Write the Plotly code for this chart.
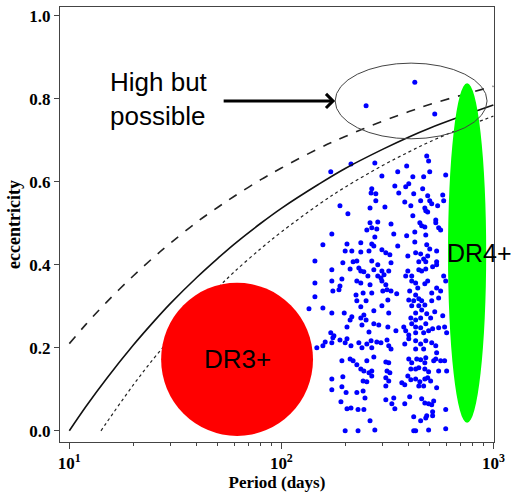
import plotly.graph_objects as go

# ---------------- data ----------------
# model curves (period in days, eccentricity)
curve_periods = [10, 12, 15, 20, 25, 30, 40, 50, 60, 80, 100, 150, 200, 300, 400, 500, 700, 1000]
ecc_solid = [0.000, 0.059, 0.126, 0.206, 0.263, 0.307, 0.370, 0.415, 0.450, 0.500,
             0.536, 0.594, 0.632, 0.678, 0.708, 0.729, 0.757, 0.785]
ecc_dashed = [0.210, 0.257, 0.310, 0.373, 0.418, 0.452, 0.503, 0.538, 0.565, 0.605,
              0.633, 0.680, 0.709, 0.746, 0.769, 0.786, 0.808, 0.830]
dotted_periods = [14.1, 15, 20, 25, 30, 40, 50, 60, 80, 100, 150, 200, 300, 400, 500, 700, 1000]
ecc_dotted = [0.000, 0.020, 0.110, 0.174, 0.222, 0.294, 0.344, 0.383, 0.439, 0.479,
              0.545, 0.587, 0.639, 0.672, 0.696, 0.728, 0.758]

# binaries, high-eccentricity part
per_high = [171, 213, 276, 485, 495, 390, 354, 298, 417, 469,
            501, 596, 343, 399, 386, 267, 265, 279, 358, 421,
            464, 490, 577, 279, 382, 454, 501, 512, 583, 189,
            262, 308, 408, 475, 546, 480, 490, 206, 417, 262,
            285, 329, 450, 535, 535, 267, 253, 282, 459, 475,
            552, 564, 173, 276, 339, 390, 426, 480,
            426, 251, 529]
ecc_high = [0.624, 0.643, 0.645, 0.662, 0.650, 0.638, 0.624, 0.614, 0.612, 0.612,
            0.624, 0.616, 0.590, 0.595, 0.588, 0.583, 0.573, 0.571, 0.573, 0.571,
            0.583, 0.566, 0.568, 0.554, 0.551, 0.554, 0.554, 0.547, 0.554, 0.542,
            0.537, 0.539, 0.542, 0.537, 0.542, 0.530, 0.527, 0.523, 0.518, 0.501,
            0.503, 0.498, 0.501, 0.508, 0.501, 0.489, 0.484, 0.486, 0.494, 0.491,
            0.489, 0.484, 0.474, 0.467, 0.474, 0.470, 0.479, 0.472,
            0.840, 0.783, 0.763]

# binaries, middle part
per_mid = [157, 204, 237, 267, 273, 354, 426, 485, 501, 200,
           215, 237, 259, 298, 311, 325, 430, 454, 490, 540,
           395, 469, 195, 218, 227, 267, 285, 329, 445, 480,
           540, 173, 211, 232, 237, 245, 273, 298, 321, 395,
           445, 459, 480, 517, 540, 285, 295, 305, 256, 386,
           412, 583, 193, 173, 227, 237, 262, 298, 311, 412,
           430, 475, 490, 596, 189, 187, 175, 315, 329, 440,
           540, 225, 243, 267, 301, 350, 403, 430, 445, 512,
           564, 227, 251, 318, 399, 421, 459, 512, 552, 237,
           298, 412, 445, 475, 157, 273, 459, 173, 198, 245,
           321, 430, 485, 529, 215, 237, 251, 211, 408, 430,
           454, 506, 577, 273, 288, 240, 204, 318, 378, 412,
           430, 454, 480, 517, 552, 589, 171, 259, 347, 386,
           399, 430, 469, 495, 602, 177,
           144, 144, 144, 135, 147, 157]
ecc_mid = [0.448, 0.450, 0.453, 0.450, 0.445, 0.445, 0.455, 0.448, 0.438, 0.433,
           0.433, 0.431, 0.433, 0.436, 0.429, 0.424, 0.429, 0.426, 0.421, 0.433,
           0.421, 0.414, 0.405, 0.407, 0.409, 0.409, 0.400, 0.405, 0.407, 0.407,
           0.407, 0.388, 0.390, 0.392, 0.385, 0.383, 0.388, 0.385, 0.385, 0.385,
           0.388, 0.385, 0.390, 0.395, 0.400, 0.373, 0.368, 0.376, 0.373, 0.373,
           0.373, 0.373, 0.366, 0.361, 0.361, 0.356, 0.352, 0.361, 0.352, 0.361,
           0.356, 0.354, 0.361, 0.361, 0.349, 0.340, 0.337, 0.340, 0.337, 0.344,
           0.344, 0.327, 0.332, 0.332, 0.337, 0.330, 0.337, 0.327, 0.318, 0.332,
           0.337, 0.313, 0.313, 0.315, 0.315, 0.313, 0.313, 0.313, 0.320, 0.299,
           0.301, 0.301, 0.301, 0.303, 0.296, 0.289, 0.291, 0.284, 0.284, 0.279,
           0.284, 0.284, 0.282, 0.287, 0.275, 0.272, 0.267, 0.267, 0.272, 0.267,
           0.272, 0.272, 0.277, 0.258, 0.255, 0.255, 0.250, 0.250, 0.250, 0.258,
           0.250, 0.248, 0.258, 0.246, 0.248, 0.250, 0.236, 0.238, 0.241, 0.241,
           0.231, 0.236, 0.236, 0.241, 0.236, 0.229,
           0.409, 0.356, 0.323, 0.294, 0.200, 0.205]

# binaries, low-eccentricity part
per_low = [161, 175, 173, 189, 200, 204, 213, 232, 240, 253,
           265, 267, 282, 295, 315, 321, 329, 399, 430, 454,
           480, 512, 535, 540, 382, 430, 469, 193, 211, 218,
           227, 253, 273, 311, 321, 399, 412, 435, 454, 480,
           475, 523, 535, 564, 589, 237, 245, 259, 267, 315,
           325, 408, 430, 445, 475, 495, 552, 602, 173, 195,
           243, 253, 267, 311, 321, 395, 408, 430, 450, 475,
           490, 506, 445, 311, 193, 173, 202, 227, 243, 248,
           370, 382, 469, 540, 403, 311, 339, 332, 343, 191,
           382, 459, 475, 495, 523, 512, 213, 204, 230, 245,
           596, 517, 517, 485, 421, 454, 480, 262, 200, 230,
           276, 421, 430, 495, 596]
ecc_low = [0.214, 0.224, 0.212, 0.219, 0.212, 0.222, 0.205, 0.212, 0.200, 0.209,
           0.217, 0.200, 0.214, 0.212, 0.219, 0.205, 0.197, 0.222, 0.217, 0.209,
           0.217, 0.212, 0.205, 0.188, 0.209, 0.197, 0.197, 0.169, 0.173, 0.169,
           0.159, 0.169, 0.178, 0.166, 0.164, 0.173, 0.164, 0.173, 0.171, 0.176,
           0.164, 0.169, 0.173, 0.169, 0.169, 0.149, 0.144, 0.140, 0.144, 0.144,
           0.140, 0.149, 0.149, 0.152, 0.149, 0.142, 0.144, 0.144, 0.125, 0.130,
           0.120, 0.118, 0.132, 0.128, 0.120, 0.132, 0.123, 0.125, 0.118, 0.125,
           0.128, 0.120, 0.108, 0.108, 0.106, 0.099, 0.092, 0.092, 0.096, 0.079,
           0.116, 0.111, 0.108, 0.104, 0.082, 0.075, 0.079, 0.065, 0.053, 0.070,
           0.065, 0.077, 0.067, 0.065, 0.072, 0.063, 0.055, 0.053, 0.051, 0.051,
           0.051, 0.046, 0.036, 0.036, 0.034, 0.024, 0.031, 0.024, 0.000, 0.000,
           0.002, 0.000, 0.000, 0.002, 0.005]

x_tick_vals = [10, 100, 1000]
x_tick_text = ["10<sup>1</sup>", "10<sup>2</sup>", "10<sup>3</sup>"]
x_minor_vals = [20, 30, 40, 50, 60, 70, 80, 90, 200, 300, 400, 500, 600, 700, 800, 900]
y_tick_vals = [0, 0.2, 0.4, 0.6, 0.8, 1.0]

# ---------------- figure ----------------
periods = per_high + per_mid + per_low
eccs = ecc_high + ecc_mid + ecc_low

fig = go.Figure()
fig.add_trace(go.Scatter(x=periods, y=eccs, mode="markers",
                         marker=dict(color="#0000ff", size=5, line=dict(width=0)),
                         hoverinfo="skip", showlegend=False))
fig.add_trace(go.Scatter(x=curve_periods, y=ecc_dashed, mode="lines",
                         line=dict(color="#222222", width=1.6, dash="dash", shape="spline"),
                         showlegend=False))
fig.add_trace(go.Scatter(x=curve_periods, y=ecc_solid, mode="lines",
                         line=dict(color="#111111", width=1.6, shape="spline"),
                         showlegend=False))
fig.add_trace(go.Scatter(x=dotted_periods, y=ecc_dotted, mode="lines",
                         line=dict(color="#222222", width=1.2, dash="dot", shape="spline"),
                         showlegend=False))

serif = "Liberation Serif, Times New Roman, serif"
sans = "Liberation Sans, Arial, Helvetica, sans-serif"

fig.update_layout(
    width=513, height=492,
    margin=dict(l=60, r=19, t=7, b=50, autoexpand=False),
    paper_bgcolor="white", plot_bgcolor="white",
    xaxis=dict(type="log", range=[0.956, 3.003],
               tickvals=x_tick_vals, ticktext=x_tick_text,
               ticks="outside", ticklen=6, tickcolor="#444", tickwidth=1,
               minor=dict(tickvals=x_minor_vals, ticks="outside", ticklen=3,
                          tickcolor="#444", showgrid=False),
               showline=True, linecolor="#444", linewidth=1, mirror=True,
               showgrid=False, zeroline=False,
               tickfont=dict(family=serif, size=17, color="black", weight="bold"),
               title=dict(text="Period (days)", standoff=3,
                          font=dict(family=serif, size=17, color="black", weight="bold"))),
    yaxis=dict(range=[-0.027, 1.021], tickvals=y_tick_vals,
               tickformat=".1f",
               ticks="outside", ticklen=5, tickcolor="#444", tickwidth=1,
               showline=True, linecolor="#444", linewidth=1, mirror=True,
               showgrid=False, zeroline=False,
               tickfont=dict(family=serif, size=17, color="black", weight="bold"),
               title=dict(text="eccentricity", standoff=4,
                          font=dict(family=serif, size=18, color="black", weight="bold"))),
    shapes=[
        dict(type="circle", xref="paper", yref="paper", x0=0.233, x1=0.583, y0=0.014, y1=0.366,
             fillcolor="#ff0000", line=dict(width=0), layer="above"),
        dict(type="circle", xref="paper", yref="paper", x0=0.894, x1=0.982, y0=0.044, y1=0.825,
             fillcolor="#00ff00", line=dict(width=0), layer="above"),
        dict(type="circle", xref="paper", yref="paper", x0=0.634, x1=0.984, y0=0.697, y1=0.871,
             fillcolor="rgba(0,0,0,0)", line=dict(color="#444", width=1), layer="above"),
    ],
    annotations=[
        dict(text="DR3+", xref="paper", yref="paper", x=0.408, y=0.19, showarrow=False,
             font=dict(family=sans, size=26, color="black"), xanchor="center", yanchor="middle"),
        dict(text="DR4+", xref="paper", yref="paper", x=0.886, y=0.434, showarrow=False,
             font=dict(family=sans, size=25, color="black"), xanchor="left", yanchor="middle"),
        dict(text="High but<br>possible", xref="paper", yref="paper", x=0.111, y=0.789,
             showarrow=False, align="left",
             font=dict(family=sans, size=26, color="black"), xanchor="left", yanchor="middle"),
        dict(text="", xref="paper", yref="paper", x=0.634, y=0.784, ax=-113, ay=0,
             showarrow=True, arrowhead=4, arrowsize=0.9, arrowwidth=3, arrowcolor="black",
             standoff=0, startstandoff=0),
    ],
)

fig.write_html("out.html")
